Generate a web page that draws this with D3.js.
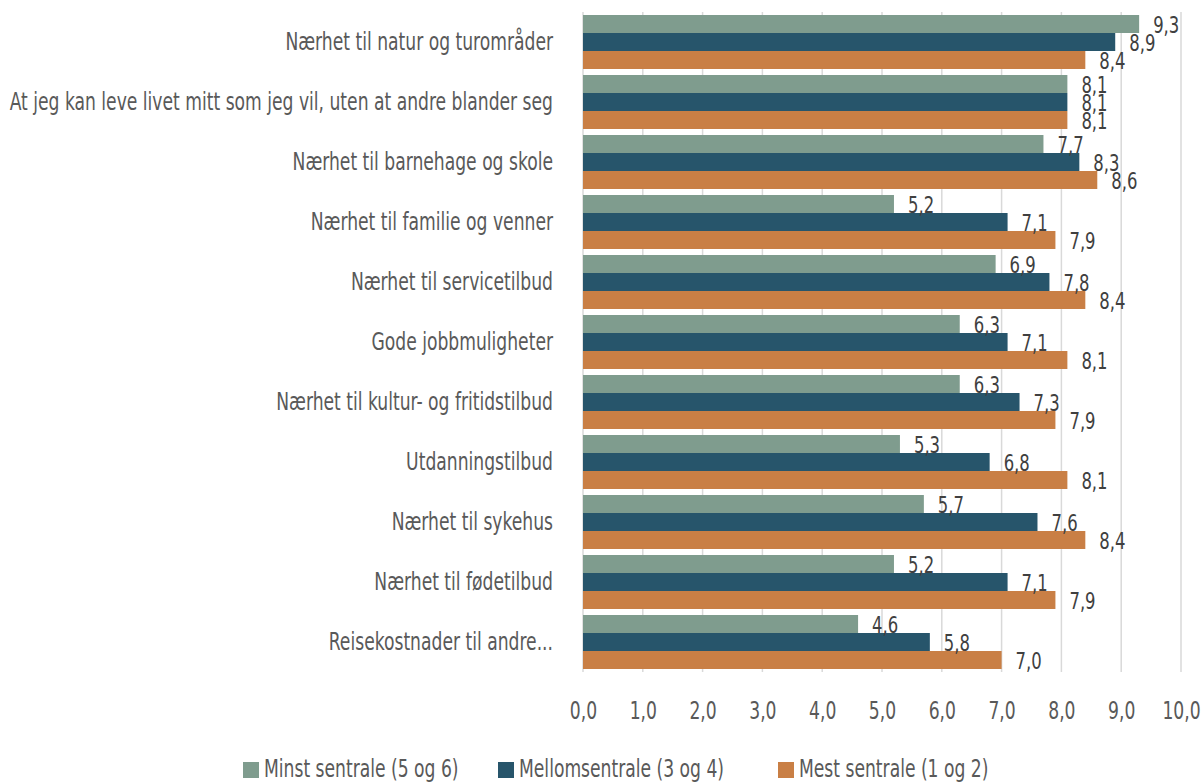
<!DOCTYPE html>
<html><head><meta charset="utf-8">
<script src="https://cdn.jsdelivr.net/npm/d3@7"></script>
<style>
body{margin:0;background:#fff;}
text{font-family:"DejaVu Sans Condensed","DejaVu Sans",sans-serif;font-stretch:condensed;}
</style></head><body>
<svg id="chart" width="1203" height="782"></svg>
<script>
const categories = [
  "Nærhet til natur og turområder",
  "At jeg kan leve livet mitt som jeg vil, uten at andre blander seg",
  "Nærhet til barnehage og skole",
  "Nærhet til familie og venner",
  "Nærhet til servicetilbud",
  "Gode jobbmuligheter",
  "Nærhet til kultur- og fritidstilbud",
  "Utdanningstilbud",
  "Nærhet til sykehus",
  "Nærhet til fødetilbud",
  "Reisekostnader til andre..."
];
const seriesNames = ["Minst sentrale (5 og 6)", "Mellomsentrale (3 og 4)", "Mest sentrale (1 og 2)"];
const minst = [9.3, 8.1, 7.7, 5.2, 6.9, 6.3, 6.3, 5.3, 5.7, 5.2, 4.6];
const mellom = [8.9, 8.1, 8.3, 7.1, 7.8, 7.1, 7.3, 6.8, 7.6, 7.1, 5.8];
const mest = [8.4, 8.1, 8.6, 7.9, 8.4, 8.1, 7.9, 8.1, 8.4, 7.9, 7.0];
const xTicks = [0,1,2,3,4,5,6,7,8,9,10];
const colors = ["#7f9c8e", "#27556b", "#c97f45"];

const seriesVals = [minst, mellom, mest];
const svg = d3.select("#chart");
const mLeft = 583, mRight = 1181, mTop = 12, mBottom = 672;
const SX = 0.795; // horizontal condensing to mimic narrow font
const FS = 24;
const x = d3.scaleLinear().domain([0,10]).range([mLeft, mRight]);
const y0 = d3.scaleBand().domain(categories).range([mTop, mBottom]).paddingInner(0.1).paddingOuter(0.05);
const y1 = d3.scaleBand().domain([0,1,2]).range([0, y0.bandwidth()]);
const fmt = v => d3.format(".1f")(v).replace(".", ",");

function ctext(parent, px, py, str, opts) {
  return parent.append("text")
    .attr("transform", `translate(${px},${py}) scale(${SX},1)`)
    .attr("dy", "0.35em")
    .attr("text-anchor", opts.anchor || "start")
    .attr("font-size", opts.size || FS)
    .attr("fill", opts.fill || "#595959")
    .text(str);
}

// gridlines
svg.append("g").selectAll("line").data(xTicks.slice(1)).join("line")
  .attr("x1", d=>x(d)).attr("x2", d=>x(d)).attr("y1", mTop).attr("y2", mBottom)
  .attr("stroke", "#d9d9d9").attr("stroke-width", 1.5);

// y axis line
svg.append("line").attr("x1", mLeft).attr("x2", mLeft).attr("y1", mTop).attr("y2", mBottom)
  .attr("stroke", "#d9d9d9").attr("stroke-width", 1.5);

// bars
const barG = svg.append("g");
categories.forEach((c, i) => {
  const g = barG.append("g").attr("transform", `translate(0,${y0(c)})`);
  seriesVals.forEach((vals, s) => {
    g.append("rect").attr("x", x(0)).attr("y", y1(s))
      .attr("width", x(vals[i]) - x(0)).attr("height", y1.bandwidth())
      .attr("fill", colors[s]);
  });
});
// value labels
const lblG = svg.append("g");
categories.forEach((c, i) => {
  seriesVals.forEach((vals, s) => {
    ctext(lblG, x(vals[i]) + 14, y0(c) + y1(s) + y1.bandwidth()/2 + 1, fmt(vals[i]),
      {fill: "#404040", size: 23});
  });
});

// category labels
const catG = svg.append("g");
categories.forEach(c => {
  ctext(catG, 553, y0(c) + y0.bandwidth()/2, c, {anchor: "end"});
});

// x axis
const xAxis = d3.axisBottom(x).tickValues(xTicks).tickFormat(fmt).tickSize(0).tickPadding(30);
const ax = svg.append("g").attr("transform", `translate(0,${mBottom})`).call(xAxis);
ax.select(".domain").remove();
ax.selectAll("text").attr("font-size", FS).attr("fill", "#595959")
  .style("font-family", "DejaVu Sans Condensed, DejaVu Sans, sans-serif")
  .attr("transform", `scale(${SX},1)`);

// legend
const legX = [243, 498, 778];
const leg = svg.append("g");
seriesNames.forEach((n, s) => {
  leg.append("rect").attr("x", legX[s]).attr("y", 762).attr("width", 16).attr("height", 16).attr("fill", colors[s]);
  ctext(leg, legX[s] + 21, 769, n, {});
});
</script></body></html>
